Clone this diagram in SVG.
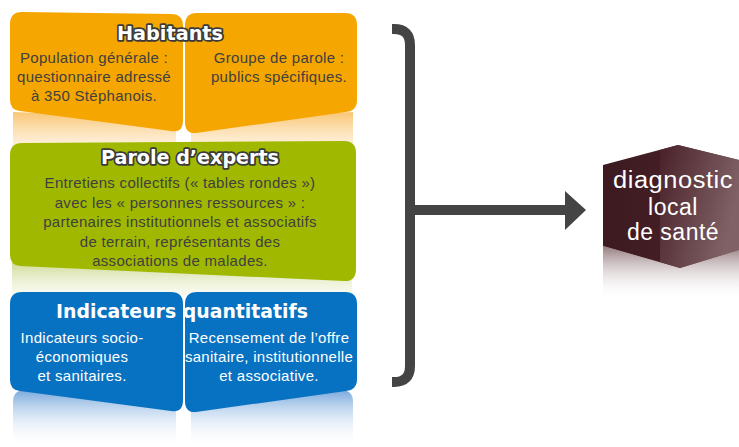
<svg xmlns="http://www.w3.org/2000/svg" width="739" height="447" viewBox="0 0 739 447">
<style>
.body{font-family:"Liberation Sans",Arial,sans-serif;font-size:15px;letter-spacing:0.3px;text-anchor:middle}
.dark{fill:#404040}
.light{fill:#ffffff}
.title{font-family:"DejaVu Sans",Verdana,sans-serif;font-weight:bold;text-anchor:middle;fill:#ffffff}
.outl{stroke:#3a3a3a;stroke-width:3.5;paint-order:stroke;stroke-linejoin:round}
.cube{font-family:"Liberation Sans",Arial,sans-serif;font-size:23px;letter-spacing:0.5px;fill:#ffffff;text-anchor:middle}
.conn{fill:none;stroke:#444444;stroke-width:10}
</style>
<defs>
<linearGradient id="rO" x1="0" y1="0" x2="0" y2="1"><stop offset="0" stop-color="#f8b850" stop-opacity="0.8"/><stop offset="1" stop-color="#fde3bd" stop-opacity="0.4"/></linearGradient>
<linearGradient id="rG" x1="0" y1="0" x2="0" y2="1"><stop offset="0" stop-color="#c9d68a" stop-opacity="0.9"/><stop offset="1" stop-color="#eef2d8" stop-opacity="0.3"/></linearGradient>
<linearGradient id="rB" x1="0" y1="0" x2="0" y2="1"><stop offset="0" stop-color="#6a9fd8" stop-opacity="0.9"/><stop offset="1" stop-color="#ffffff" stop-opacity="0"/></linearGradient>
<linearGradient id="cubeR" x1="0" y1="0" x2="1" y2="0.4"><stop offset="0" stop-color="#4a2229"/><stop offset="1" stop-color="#86696d"/></linearGradient>
<linearGradient id="cubeL" x1="0" y1="0" x2="1" y2="0"><stop offset="0" stop-color="#3c1a20"/><stop offset="1" stop-color="#4e232b"/></linearGradient>
<linearGradient id="cubeRef" x1="0" y1="0" x2="0" y2="1"><stop offset="0" stop-color="#7a5a5f" stop-opacity="0.8"/><stop offset="1" stop-color="#ffffff" stop-opacity="0"/></linearGradient>
</defs>

<g id="habitants">
<path d="M13,112 L176,118 L176,150 L13,150 Z" fill="url(#rO)"/>
<path d="M191,118 L353,112 L353,150 L191,150 Z" fill="url(#rO)"/>
<path d="M22,12 L171,14 Q183,14 183,26 L183,121 Q183,133 171,131 L20,111 Q10,110 10,100 L10,24 Q10,12 22,12 Z" fill="#f6a600"/>
<path d="M197,13 L345,13 Q357,13 357,25 L357,100 Q357,111 346,112 L196,133 Q185,134 185,122 L185,25 Q185,13 197,13 Z" fill="#f6a600"/>
<text class="title outl" x="170" y="40" font-size="19" textLength="106" lengthAdjust="spacingAndGlyphs">Habitants</text>
<text class="body dark" x="94" y="63">Population générale :</text>
<text class="body dark" x="94" y="82">questionnaire adressé</text>
<text class="body dark" x="94" y="101">à 350 Stéphanois.</text>
<text class="body dark" x="279" y="63">Groupe de parole :</text>
<text class="body dark" x="279" y="82">publics spécifiques.</text>
</g>

<g id="experts">
<path d="M12,262 L352,276 L352,296 L12,296 Z" fill="url(#rG)"/>
<path d="M22,143 L344,141 Q356,141 356,153 L356,269 Q356,282 344,281 L20,266 Q10,265 10,255 L10,155 Q10,143 22,143 Z" fill="#a0b900"/>
<text class="title outl" x="190" y="164" font-size="19" textLength="178" lengthAdjust="spacingAndGlyphs">Parole d’experts</text>
<text class="body dark" x="180" y="188">Entretiens collectifs (« tables rondes »)</text>
<text class="body dark" x="180" y="207.5">avec les « personnes ressources » :</text>
<text class="body dark" x="180" y="227">partenaires institutionnels et associatifs</text>
<text class="body dark" x="180" y="246.5">de terrain, représentants des</text>
<text class="body dark" x="180" y="266">associations de malades.</text>
</g>

<g id="indicateurs">
<path d="M25,390 L164,390 Q176,390 176,402 L176,447 L13,447 L13,402 Q13,390 25,390 Z" fill="url(#rB)"/>
<path d="M203,390 L341,390 Q353,390 353,402 L353,447 L191,447 L191,402 Q191,390 203,390 Z" fill="url(#rB)"/>
<path d="M22,292 L171,292 Q183,292 183,304 L183,400 Q183,413 171,411 L20,391 Q10,390 10,380 L10,304 Q10,292 22,292 Z" fill="#0872c2"/>
<path d="M197,292 L345,292 Q357,292 357,304 L357,379 Q357,390 346,391 L196,412 Q185,413 185,401 L185,304 Q185,292 197,292 Z" fill="#0872c2"/>
<text class="title" x="182" y="318" font-size="20" textLength="252" lengthAdjust="spacingAndGlyphs">Indicateurs quantitatifs</text>
<text class="body light" x="82" y="343">Indicateurs socio-</text>
<text class="body light" x="82" y="362">économiques</text>
<text class="body light" x="82" y="381">et sanitaires.</text>
<text class="body light" x="269" y="343">Recensement de l’offre</text>
<text class="body light" x="269" y="362">sanitaire, institutionnelle</text>
<text class="body light" x="269" y="381">et associative.</text>
</g>

<g id="diagnostic">
<path d="M603,246 L680,268 L739,250 L739,300 L603,300 Z" fill="url(#cubeRef)"/>
<path d="M603,165 L678,145 L739,160 L739,250 L680,268 L603,246 Z" fill="url(#cubeL)"/>
<path d="M660,150 L678,145 L739,160 L739,250 L680,268 L660,262 Z" fill="url(#cubeR)" opacity="0.9"/>
<text class="cube" x="673" y="188" textLength="120" lengthAdjust="spacingAndGlyphs">diagnostic</text>
<text class="cube" x="673" y="215">local</text>
<text class="cube" x="673" y="240">de santé</text>
</g>

<g id="connectors">
<path class="conn" d="M392,29 L394,29 Q410,29 410,45 L410,366 Q410,382 394,382 L392,382"/>
<path class="conn" d="M410,210 L567,210"/>
<polygon points="565,191 586,210 565,230" fill="#444444"/>
</g>
</svg>
